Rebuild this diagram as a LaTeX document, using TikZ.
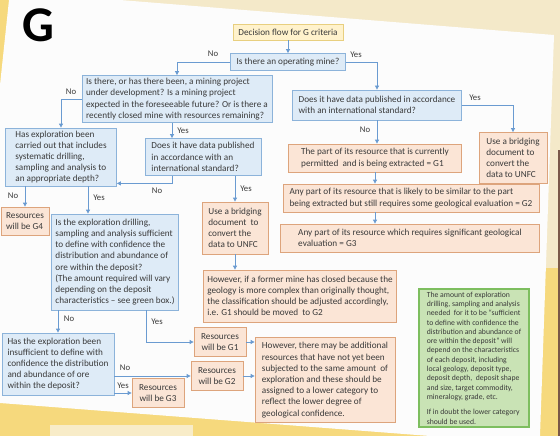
\documentclass[tikz,border=0pt]{standalone}
\usepackage{fontspec}
\setmainfont{Carlito}
\usepackage{tikz}
\usetikzlibrary{arrows.meta,calc}

\definecolor{qfill}{HTML}{DEEBF7}
\definecolor{qline}{HTML}{8CB3DA}
\definecolor{afill}{HTML}{FBE5D6}
\definecolor{aline}{HTML}{DDA47C}
\definecolor{tfill}{HTML}{FFF2CC}
\definecolor{tline}{HTML}{E8CF7F}
\definecolor{gfill}{HTML}{C9E3B5}
\definecolor{gline}{HTML}{7DBE5F}
\definecolor{flowc}{HTML}{6A9BD1}
\definecolor{txt}{HTML}{3A3A3A}
\definecolor{cream}{HTML}{F4E9C9}
\definecolor{ylw}{HTML}{F6D97D}
\definecolor{pale}{HTML}{F8ECC8}
\definecolor{slide}{HTML}{FCFCFC}
\definecolor{dark}{HTML}{7A5848}

\tikzset{
  qbox/.style={draw=qline,fill=qfill,line width=0.8pt,align=left,inner xsep=4pt,inner ysep=2pt,text=txt,font=\fontsize{9.2}{11.2}\selectfont},
  abox/.style={qbox,draw=aline,fill=afill},
  flow/.style={draw=flowc,line width=0.8pt,-{Triangle[length=4pt,width=4pt]}},
  yn/.style={text=txt,inner sep=0pt,font=\fontsize{8.7}{10}\selectfont}
}

\begin{document}
\begin{tikzpicture}[x=1pt,y=-1pt]
    \useasboundingbox (0,0) rectangle (560,436);
    \fill[ylw] (0,0) rectangle (560,436);
    \fill[cream] (9,0) rectangle (560,268);
    \fill[pale] (50,425) rectangle (193,436);
    \fill[dark] (558,150) rectangle (560,436);
    \fill[slide] (9,0) -- (120,0) -- (554,35) -- (540,436) -- (430,436) -- (0,403) -- (0,85) -- cycle;

    \node (bigG) at (38,25) [text=black,inner sep=0pt,font=\fontsize{50}{50}\selectfont\bfseries] {G};

    \node (title) at (288,32) [qbox,draw=tline,fill=tfill,align=center,minimum width=110pt,minimum height=16pt] {Decision flow for G criteria};
    \node (opmine) at (288,62) [qbox,align=center,minimum width=115pt,minimum height=17pt] {Is there an operating mine?};

    \node (bigq) at (177,99) [qbox,minimum width=190pt,minimum height=47pt] {Is there, or has there been, a mining project\\ under development? Is a mining project\\ expected in the foreseeable future? Or is there a\\ recently closed mine with resources remaining?};
    \node (rdata) at (377,105) [qbox,minimum width=169pt,minimum height=30pt] {Does it have data published in accordance\\ with an international standard?};
    \node (rbridge) at (513,158) [abox,minimum width=68pt,minimum height=51pt] {Use a bridging\\ document to\\ convert the\\ data to UNFC};

    \node (g1) at (375,158) [abox,minimum width=173pt,minimum height=28pt] {The part of its resource that is currently\\ permitted\ \ and is being extracted = G1};
    \node (g2) at (411,198) [abox,minimum width=256pt,minimum height=28pt] {Any part of its resource that is likely to be similar to the part\\ being extracted but still requires some geological evaluation = G2};
    \node (g3) at (410,238) [abox,minimum width=259pt,minimum height=28pt] {Any part of its resource which requires significant geological\\ evaluation = G3};

    \node (explore) at (61,157) [qbox,minimum width=111pt,minimum height=58pt] {Has exploration been\\ carried out that includes\\ systematic drilling,\\ sampling and analysis to\\ an appropriate depth?};
    \node (mdata) at (203,157) [qbox,minimum width=116pt,minimum height=37pt] {Does it have data published\\ in accordance with an\\ international standard?};
    \node (g4) at (25,221) [abox,minimum width=48pt,minimum height=28pt] {Resources\\ will be G4};
    \node (mbridge) at (235,228) [abox,minimum width=66pt,minimum height=52pt] {Use a bridging\\ document\ \ to\\ convert the\\ data to UNFC};

    \node (suff) at (115,262) [qbox,minimum width=125pt,minimum height=96pt] {Is the exploration drilling,\\ sampling and analysis sufficient\\ to define with confidence the\\ distribution and abundance of\\ ore within the deposit?\\ (The amount required will vary\\ depending on the deposit\\ characteristics -- see green box.)};
    \node (former) at (300,296) [abox,minimum width=191pt,minimum height=52pt] {However, if a former mine has closed because the\\ geology is more complex than originally thought,\\ the classification should be adjusted accordingly,\\ i.e. G1 should be moved\ \ to G2};

    \node (insuff) at (58,364) [qbox,minimum width=112pt,minimum height=62pt] {Has the exploration been\\ insufficient to define with\\ confidence the distribution\\ and abundance of ore\\ within the deposit?};
    \node (resg1) at (220,342) [abox,align=center,minimum width=52pt,minimum height=29pt] {Resources\\ will be G1};
    \node (resg2) at (217,376) [abox,align=center,minimum width=52pt,minimum height=29pt] {Resources\\ will be G2};
    \node (resg3) at (158,393) [abox,align=center,minimum width=52pt,minimum height=29pt] {Resources\\ will be G3};
    \node (addl) at (325,380) [abox,minimum width=140pt,minimum height=85pt] {However, there may be additional\\ resources that have not yet been\\ subjected to the same amount\ \ of\\ exploration and these should be\\ assigned to a lower category to\\ reflect the lower degree of\\ geological confidence.};

    \node (green) at (474,358) [qbox,draw=gline,fill=gfill,line width=1.2pt,inner xsep=7pt,minimum width=110pt,minimum height=138pt,font=\fontsize{7.7}{9.3}\selectfont] {The amount of exploration\\ drilling, sampling and analysis\\ needed\ \ for it to be “sufficient\\ to define with confidence the\\ distribution and abundance of\\ ore within the deposit” will\\ depend on the characteristics\\ of each deposit, including\\ local geology, deposit type,\\ deposit depth,\ \ deposit shape\\ and size, target commodity,\\ mineralogy, grade, etc.\\[6pt] If in doubt the lower category\\ should be used.};

    \node (no1) at (213,54) [yn] {No};
    \node (yes1) at (356,55) [yn] {Yes};
    \node (yes2) at (475,98) [yn] {Yes};
    \node (no2) at (365,130) [yn] {No};
    \node (no3) at (71,92) [yn] {No};
    \node (yes3) at (183,131) [yn] {Yes};
    \node (no4) at (157,191) [yn] {No};
    \node (yes4) at (246,189) [yn] {Yes};
    \node (no5) at (13,196) [yn] {No};
    \node (yes5) at (99,198) [yn] {Yes};
    \node (no6) at (69,319) [yn] {No};
    \node (yes6) at (157,322) [yn] {Yes};
    \node (no7) at (125,368) [yn] {No};
    \node (yes7) at (123,386) [yn] {Yes};

    \coordinate (ydrop) at ($(bigq.south)+(-5,0)$);
    \coordinate (yesdrop) at ($(explore.south)+(27,0)$);
    \coordinate (yesdrop2) at ($(suff.south)+(31,0)$);

    \draw[flow] (title) -- (opmine);
    \draw[flow] (opmine.west) -| (bigq.north);
    \draw[flow] (opmine.east) -| (rdata.north);
    \draw[flow] (rdata.east) -| (rbridge.north);
    \draw[flow] (rdata.south) -- (rdata.south |- g1.north);
    \draw[flow] (g1.south) -- (g1.south |- g2.north);
    \draw[flow] (g1.south |- g2.south) -- (g1.south |- g3.north);

    \draw[flow] (bigq.west) -| (explore.north);
    \draw[flow] (ydrop) -- (ydrop |- mdata.north);
    \draw[flow] (mdata.south -| ydrop) |- ($(explore.south east)+(0,-3)$);
    \draw[flow] (mbridge.north |- mdata.south) -- (mbridge.north);
    \draw[flow] (mbridge.south) -- (mbridge.south |- former.north);

    \draw[flow] (explore.south -| g4.north) -- (g4.north);
    \draw[flow] (yesdrop) -- (yesdrop |- suff.north);
    \draw[flow] (suff.south -| insuff.north) -- (insuff.north);
    \draw[flow] (yesdrop2) |- (resg1.west);
    \draw[flow] (insuff.east |- resg2.west) -- (resg2.west);
    \draw[flow] (insuff.east |- resg3.west) -- (resg3.west);
    \draw[flow] (resg1.east) -- (resg1.east -| addl.west);
    \draw[flow] (resg2.east) -- (resg2.east -| addl.west);
\end{tikzpicture}
\end{document}
